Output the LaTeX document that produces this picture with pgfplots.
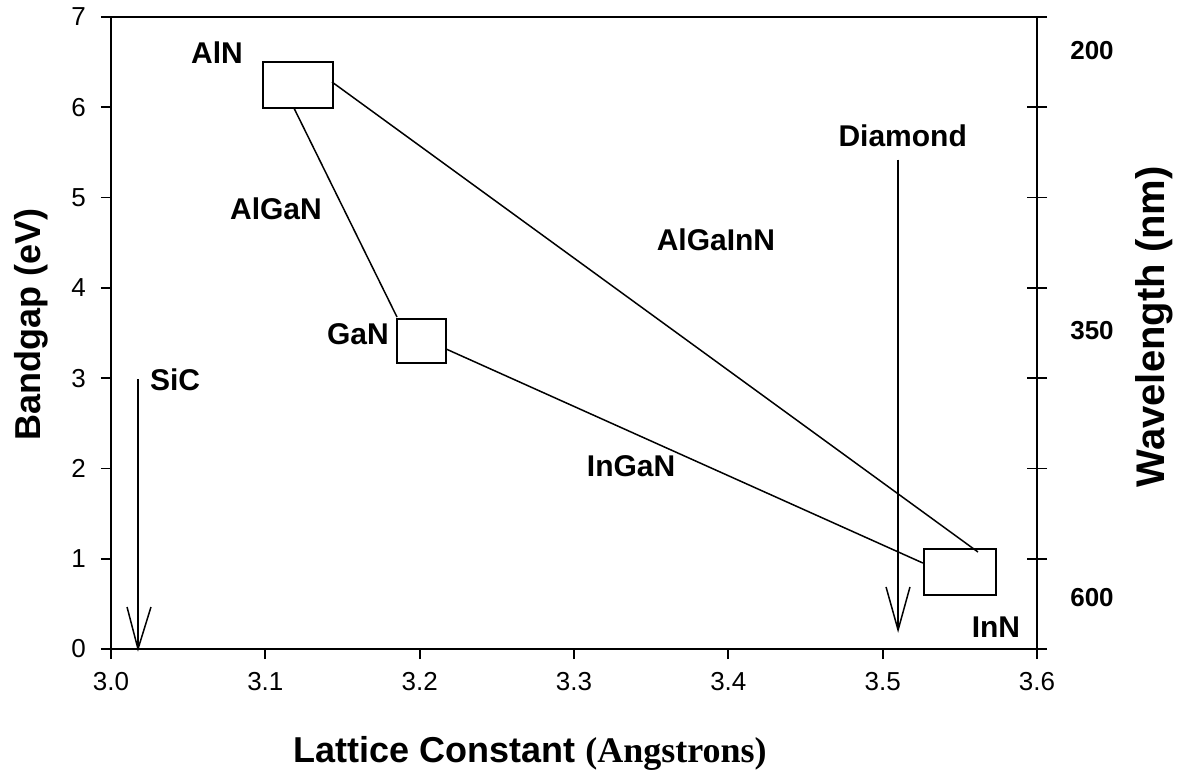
\documentclass[border=0pt]{standalone}
\usepackage{fontspec}
\setmainfont{Liberation Sans}
\newfontfamily\timesfont{Liberation Serif}
\usepackage{pgfplots}
\pgfplotsset{compat=1.18}
\begin{document}
\begin{tikzpicture}
\path[use as bounding box] (-55.5pt,-61pt) rectangle (533.5pt,324.5pt);
\begin{axis}[
  at={(0,0)}, anchor=south west,
  scale only axis, width=463pt, height=316pt,
  xmin=3.0, xmax=3.6, ymin=0, ymax=7,
  xtick={3.0,3.1,3.2,3.3,3.4,3.5,3.6},
  xticklabels={3.0,3.1,3.2,3.3,3.4,3.5,3.6},
  ytick={0,1,2,3,4,5,6,7},
  xtick pos=bottom, ytick pos=left,
  tick align=outside,
  major tick length=5pt,
  axis line style={line width=0.9pt},
  every tick/.style={line width=0.9pt, black},
  tick label style={font=\fontsize{13}{15}\selectfont},
  xticklabel style={yshift=-3pt},
  yticklabel style={xshift=-4pt},
  /pgf/number format/assume math mode=true,
  clip=false,
]
% boxes
\addplot[black, line width=0.9pt, line join=miter] coordinates {(3.0985,5.99) (3.1438,5.99) (3.1438,6.50) (3.0985,6.50) (3.0985,5.99) (3.1438,5.99)};
\addplot[black, line width=0.9pt, line join=miter] coordinates {(3.1853,3.168) (3.2171,3.168) (3.2171,3.655) (3.1853,3.655) (3.1853,3.168) (3.2171,3.168)};
\addplot[black, line width=0.9pt, line join=miter] coordinates {(3.5268,0.598) (3.5734,0.598) (3.5734,1.108) (3.5268,1.108) (3.5268,0.598) (3.5734,0.598)};
% connecting lines
\addplot[black, line width=0.75pt] coordinates {(3.1186,5.99) (3.1853,3.677)};
\addplot[black, line width=0.75pt] coordinates {(3.1432,6.28) (3.5618,1.074)};
\addplot[black, line width=0.75pt] coordinates {(3.2171,3.323) (3.5261,0.952)};
% SiC arrow
\addplot[black, line width=0.75pt] coordinates {(3.0175,2.99) (3.0175,0)};
\addplot[black, line width=0.75pt, line join=miter] coordinates {(3.0104,0.465) (3.0175,0) (3.0259,0.465)};
% Diamond arrow
\addplot[black, line width=0.75pt] coordinates {(3.51,5.42) (3.51,0.21)};
\addplot[black, line width=0.75pt, line join=miter] coordinates {(3.5022,0.687) (3.51,0.21) (3.5177,0.687)};
% labels
\begin{scope}[every node/.style={font=\fontsize{15}{18}\selectfont\bfseries, inner sep=0pt}]
\node at (axis cs:3.0687,6.60) {AlN};
\node at (axis cs:3.1069,4.873) {AlGaN};
\node at (axis cs:3.160,3.489) {GaN};
\node at (axis cs:3.392,4.530) {AlGaInN};
\node at (axis cs:3.337,2.027) {InGaN};
\node at (axis cs:3.513,5.69) {Diamond};
\node at (axis cs:3.0415,2.98) {SiC};
\node at (axis cs:3.5734,0.244) {InN};
\end{scope}
\begin{scope}[every node/.style={font=\fontsize{13}{15}\selectfont\bfseries, inner sep=0pt}]
\node at ([xshift=27.5pt]axis cs:3.6,6.63) {200};
\node at ([xshift=27.5pt]axis cs:3.6,3.53) {350};
\node at ([xshift=27.5pt]axis cs:3.6,0.565) {600};
\end{scope}
\node[font=\fontsize{18}{22}\selectfont\bfseries, anchor=base, inner sep=0pt] at ([yshift=-56.5pt]rel axis cs:0.4525,0) {Lattice Constant {\timesfont\bfseries(Angstrons)}};
\node[font=\fontsize{18}{22}\selectfont\bfseries, anchor=base, rotate=90, inner sep=0pt] at ([xshift=-35pt]rel axis cs:0,0.513) {Bandgap (eV)};
\node[font=\fontsize{20}{24}\selectfont\bfseries, anchor=base, rotate=90, inner sep=0pt] at ([xshift=64pt]rel axis cs:1,0.51) {Wavelength (nm)};
\end{axis}
\begin{axis}[
  at={(0,0)}, anchor=south west,
  scale only axis, width=463pt, height=316pt,
  xmin=3.0, xmax=3.6, ymin=0, ymax=7,
  axis x line=none, axis y line*=right,
  ytick={0,1,2,3,4,5,6,7}, yticklabels={},
  tick align=center, major tick length=10pt,
  axis line style={line width=0.9pt, -},
  every tick/.style={line width=0.9pt, black},
]
\end{axis}
\end{tikzpicture}
\end{document}
